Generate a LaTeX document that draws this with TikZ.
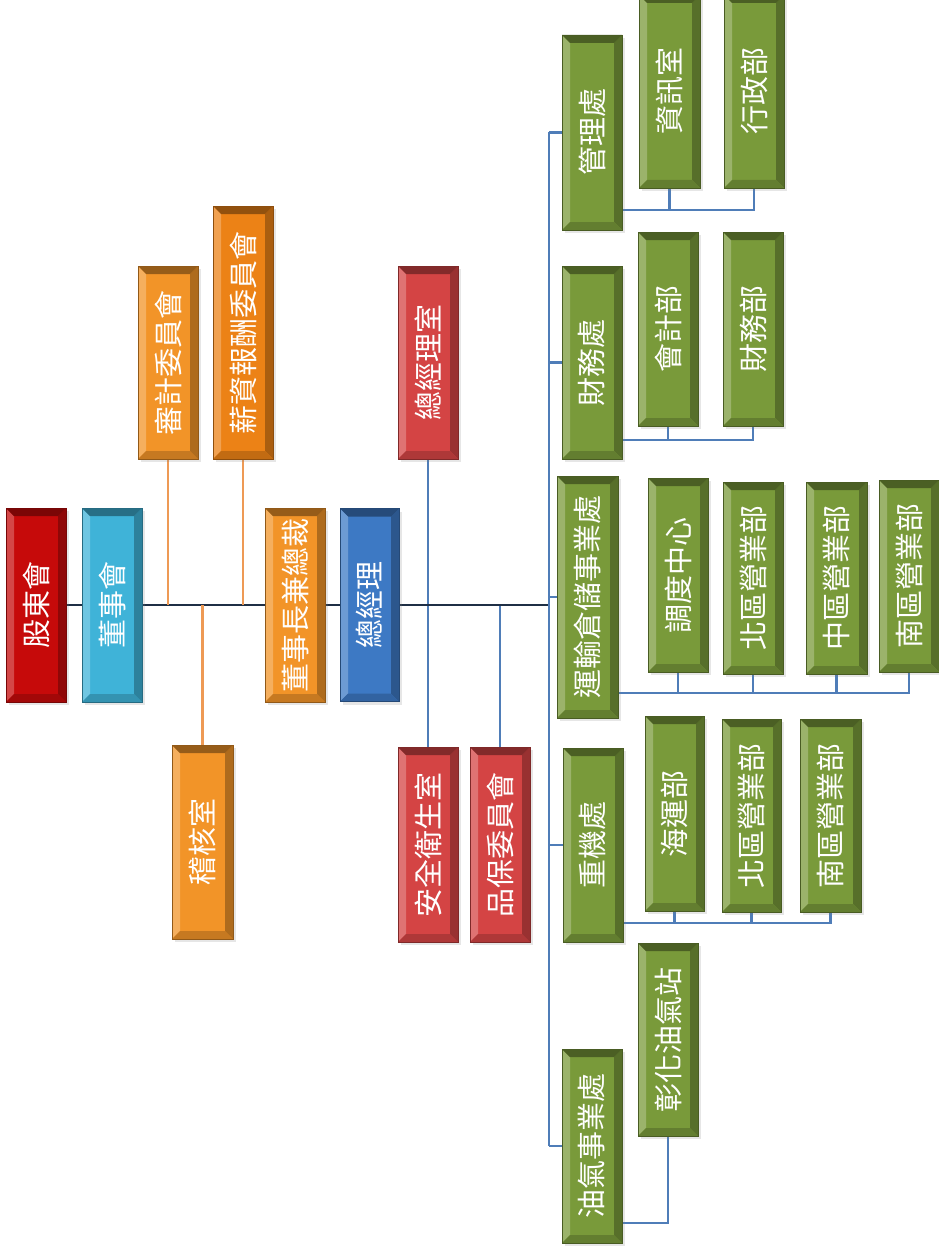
\documentclass[tikz,border=0pt]{standalone}
\usepackage{fontspec}
\usepackage{graphicx}
\newfontfamily\cjk{Noto Sans CJK TC}
\usetikzlibrary{shadows,backgrounds}
\definecolor{cRed}{HTML}{C60A0A}
\definecolor{cCyan}{HTML}{3FB3D8}
\definecolor{cOrange}{HTML}{F29428}
\definecolor{cOrangeD}{HTML}{EC8216}
\definecolor{cRedL}{HTML}{D44444}
\definecolor{cBlue}{HTML}{3D79C4}
\definecolor{cGreen}{HTML}{799A3A}
\definecolor{lnDark}{HTML}{1F2F45}
\definecolor{lnBlue}{HTML}{4F7DB8}
\definecolor{lnOrange}{HTML}{EE9A55}
\tikzset{
  bev/.style={draw=#1!60!black, line width=0.5pt, fill=#1, text=white,
    inner sep=0pt, outer sep=0pt,
    drop shadow={opacity=0.2, shadow xshift=3pt, shadow yshift=-3pt},
    font=\cjk\fontsize{29}{29}\selectfont,
    path picture={
      \fill[#1!75!white] (path picture bounding box.north west) -- (path picture bounding box.south west)
        -- ([shift={(8pt,8pt)}]path picture bounding box.south west) -- ([shift={(8pt,-8pt)}]path picture bounding box.north west) -- cycle;
      \fill[#1!72!black] (path picture bounding box.north east) -- (path picture bounding box.south east)
        -- ([shift={(-8pt,8pt)}]path picture bounding box.south east) -- ([shift={(-8pt,-8pt)}]path picture bounding box.north east) -- cycle;
      \fill[#1!62!black] (path picture bounding box.north west) -- (path picture bounding box.north east)
        -- ([shift={(-8pt,-8pt)}]path picture bounding box.north east) -- ([shift={(8pt,-8pt)}]path picture bounding box.north west) -- cycle;
      \fill[#1!82!black] (path picture bounding box.south west) -- (path picture bounding box.south east)
        -- ([shift={(-8pt,8pt)}]path picture bounding box.south east) -- ([shift={(8pt,8pt)}]path picture bounding box.south west) -- cycle;
    }},
  bx/.style 2 args={minimum width=#1pt, minimum height=#2pt},
  lnd/.style={draw=lnDark, line width=2.2pt},
  lnb/.style={draw=lnBlue, line width=2.2pt},
  lno/.style={draw=lnOrange, line width=2.2pt},
  lng/.style={draw=lnBlue, line width=2.2pt}
}
\newcommand{\vt}[1]{\rotatebox{90}{#1}}
\begin{document}
\begin{tikzpicture}[x=1pt,y=-1pt]
\useasboundingbox (0,0) rectangle (938,1252);
% upper governance
\node[bev=cRed, bx={60}{194}] (gs) at (36,605) {\vt{股東會}};
\node[bev=cCyan, bx={60}{194}] (bd) at (112,605) {\vt{董事會}};
\node[bev=cOrange, bx={60}{194}] (ch) at (295,605) {\vt{董事長兼總裁}};
\node[bev=cOrange, bx={60}{193}] (aud) at (168,362.5) {\vt{審計委員會}};
\node[bev=cOrangeD, bx={60}{253}] (sal) at (243,332.5) {\vt{薪資報酬委員會}};
\node[bev=cOrange, bx={61}{194}] (ia) at (202.5,842) {\vt{稽核室}};
\node[bev=cBlue, bx={59}{193}] (gm) at (369.5,605) {\vt{總經理}};
\node[bev=cRedL, bx={60}{193}] (gmo) at (428,362.5) {\vt{總經理室}};
\node[bev=cRedL, bx={60}{195}] (saf) at (428,844.5) {\vt{安全衛生室}};
\node[bev=cRedL, bx={60}{195}] (qa) at (500,844.5) {\vt{品保委員會}};
% divisions
\node[bev=cGreen, bx={60}{195}] (mgt) at (592,132.5) {\vt{管理處}};
\node[bev=cGreen, bx={61}{193}] (info) at (669.5,91.5) {\vt{資訊室}};
\node[bev=cGreen, bx={60}{193}] (adm) at (754,91.5) {\vt{行政部}};
\node[bev=cGreen, bx={60}{193}] (fin) at (592,362.5) {\vt{財務處}};
\node[bev=cGreen, bx={60}{194}] (acc) at (668,329) {\vt{會計部}};
\node[bev=cGreen, bx={60}{194}] (fdp) at (753,329) {\vt{財務部}};
\node[bev=cGreen, bx={61}{242}] (trn) at (587.5,597) {\vt{運輸倉儲事業處}};
\node[bev=cGreen, bx={60}{194}] (dis) at (678,575) {\vt{調度中心}};
\node[bev=cGreen, bx={60}{192}] (tn) at (753,578) {\vt{北區營業部}};
\node[bev=cGreen, bx={61}{192}] (tc) at (836.5,578) {\vt{中區營業部}};
\node[bev=cGreen, bx={60}{192}] (ts) at (909,576) {\vt{南區營業部}};
\node[bev=cGreen, bx={60}{194}] (hv) at (593,845) {\vt{重機處}};
\node[bev=cGreen, bx={59}{195}] (sea) at (674.5,813.5) {\vt{海運部}};
\node[bev=cGreen, bx={59}{193}] (hn) at (751.5,815.5) {\vt{北區營業部}};
\node[bev=cGreen, bx={61}{193}] (hs) at (830.5,815.5) {\vt{南區營業部}};
\node[bev=cGreen, bx={60}{194}] (oil) at (592,1146) {\vt{油氣事業處}};
\node[bev=cGreen, bx={60}{193}] (chg) at (668,1039.5) {\vt{彰化油氣站}};
% connectors (drawn behind)
\begin{pgfonlayer}{background}
\coordinate (gb) at (549,605);
\draw[lnd] (gs.east) -- (bd.west);
\draw[lnd] (bd.east) -- (ch.west);
\draw[lno] (aud.south) -- (aud.south |- ch.west);
\draw[lno] (sal.south) -- (sal.south |- ch.west);
\draw[lno] (ia.north) -- (ia.north |- ch.west);
\draw[lnd] (ch.east) -- (gm.west);
\draw[lnb] (gmo.south) -- (saf.north);
\draw[lnb] (qa.north) -- (qa.north |- gm.east);
\draw[lnd] (gm.east) -- (gb);
\draw[lng] (gb |- mgt.west) -- (gb |- oil.west);
\draw[lng] (mgt.west) -- (mgt.west -| gb);
\draw[lng] (fin.west) -- (fin.west -| gb);
\draw[lng] (trn.west) -- (trn.west -| gb);
\draw[lng] (hv.west) -- (hv.west -| gb);
\draw[lng] (oil.west) -- (oil.west -| gb);
% sub connectors
\draw[lng] ([yshift=20pt]mgt.south east) -| (info.south);
\draw[lng] ([yshift=20pt]mgt.south east) -| (adm.south);
\draw[lng] ([yshift=19pt]fin.south east) -| (acc.south);
\draw[lng] ([yshift=19pt]fin.south east) -| (fdp.south);
\draw[lng] ([yshift=25pt]trn.south east) -| (dis.south);
\draw[lng] ([yshift=25pt]trn.south east) -| (tn.south);
\draw[lng] ([yshift=25pt]trn.south east) -| (tc.south);
\draw[lng] ([yshift=25pt]trn.south east) -| (ts.south);
\draw[lng] ([yshift=19pt]hv.south east) -| (sea.south);
\draw[lng] ([yshift=19pt]hv.south east) -| (hn.south);
\draw[lng] ([yshift=19pt]hv.south east) -| (hs.south);
\draw[lng] ([yshift=20pt]oil.south east) -| (chg.south);
\end{pgfonlayer}
\end{tikzpicture}
\end{document}
